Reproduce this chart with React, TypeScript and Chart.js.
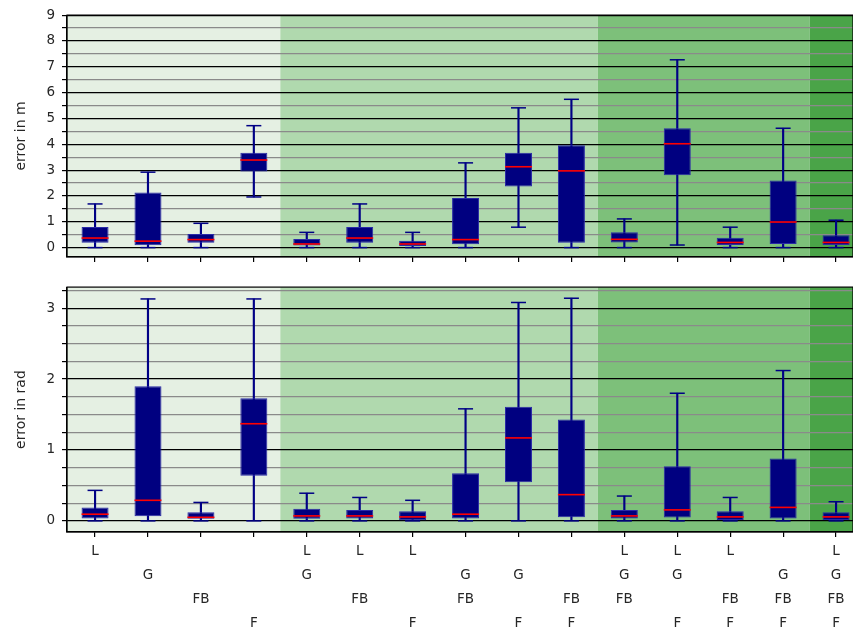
import React, { useEffect, useRef } from 'react';
import { Chart, registerables } from 'chart.js';

Chart.register(...registerables);
Chart.defaults.font.family = "'DejaVu Sans', sans-serif";
Chart.defaults.color = '#000000';

// x positions 1..15, tick labels (multi-line)
const categories: string[][] = [
  ['L', '', '', ''],
  ['', 'G', '', ''],
  ['', '', 'FB', ''],
  ['', '', '', 'F'],
  ['L', 'G', '', ''],
  ['L', '', 'FB', ''],
  ['L', '', '', 'F'],
  ['', 'G', 'FB', ''],
  ['', 'G', '', 'F'],
  ['', '', 'FB', 'F'],
  ['L', 'G', 'FB', ''],
  ['L', 'G', '', 'F'],
  ['L', '', 'FB', 'F'],
  ['', 'G', 'FB', 'F'],
  ['L', 'G', 'FB', 'F'],
];

// position error (m)
const posLow = [0, 0, 0, 1.96, 0, 0, 0, 0, 0.79, 0, 0, 0.1, 0, 0, 0];
const posQ1 = [0.19, 0.09, 0.19, 2.95, 0.08, 0.19, 0.06, 0.13, 2.37, 0.19, 0.2, 2.8, 0.1, 0.14, 0.1];
const posMedian = [0.37, 0.25, 0.31, 3.39, 0.14, 0.37, 0.14, 0.31, 3.13, 2.97, 0.32, 4.02, 0.2, 0.99, 0.2];
const posQ3 = [0.8, 2.13, 0.53, 3.67, 0.33, 0.8, 0.27, 1.92, 3.67, 3.96, 0.59, 4.62, 0.38, 2.6, 0.48];
const posHigh = [1.69, 2.92, 0.94, 4.72, 0.59, 1.69, 0.59, 3.28, 5.41, 5.74, 1.11, 7.27, 0.79, 4.62, 1.06];

// rotation error (rad)
const radLow = [0, 0, 0, 0, 0, 0, 0, 0, 0, 0, 0, 0, 0, 0, 0];
const radQ1 = [0.033, 0.066, 0.03, 0.635, 0.03, 0.033, 0.01, 0.033, 0.545, 0.05, 0.033, 0.047, 0.014, 0.033, 0.014];
const radMedian = [0.094, 0.29, 0.05, 1.37, 0.07, 0.07, 0.056, 0.094, 1.17, 0.37, 0.07, 0.155, 0.056, 0.19, 0.056];
const radQ3 = [0.19, 1.9, 0.12, 1.73, 0.17, 0.155, 0.136, 0.67, 1.61, 1.43, 0.155, 0.77, 0.136, 0.88, 0.12];
const radHigh = [0.43, 3.13, 0.26, 3.13, 0.39, 0.33, 0.29, 1.58, 3.08, 3.14, 0.35, 1.8, 0.33, 2.12, 0.27];

// background groups (number of active sources)
const bandEdges = [0, 4.5, 10.5, 14.5, 16];
const bandColors = ['#e5f0e3', '#b0d9ae', '#7dc07a', '#4aa448'];

// axis ranges and tick steps
const xRange = [0.47, 15.32];
const posRange = [-0.36, 9];
const posMinorStep = 0.5;
const radRange = [-0.157, 3.297];
const radMinorStep = 0.25;

const bandsPlugin = {
  id: 'bands',
  beforeDraw(chart: any) {
    const { ctx, chartArea: a, scales } = chart;
    const x = scales.x;
    ctx.save();
    for (let i = 0; i < bandColors.length; i++) {
      const x0 = Math.max(a.left, x.getPixelForValue(bandEdges[i]));
      const x1 = Math.min(a.right, x.getPixelForValue(bandEdges[i + 1]));
      if (x1 <= x0) continue;
      ctx.fillStyle = bandColors[i];
      ctx.fillRect(x0, a.top, x1 - x0, a.bottom - a.top);
    }
    ctx.restore();
  },
  afterDatasetsDraw(chart: any) {
    const { ctx, chartArea: a } = chart;
    ctx.save();
    ctx.strokeStyle = '#000000';
    ctx.lineWidth = 1.2;
    ctx.strokeRect(a.left, a.top, a.right - a.left, a.bottom - a.top);
    ctx.restore();
  },
};

function makeConfig(
  low: number[], q1: number[], med: number[], q3: number[], high: number[],
  yRange: number[], minorStep: number, title: string, showLabels: boolean,
  xAxisHeight: number, padTop: number
): any {
  const xs = categories.map((_, i) => i + 1);
  const yTicks: number[] = [];
  for (let v = 0; v <= yRange[1] + 1e-9; v += minorStep) yTicks.push(Math.round(v * 1000) / 1000);
  const navy = '#000085';
  return {
    type: 'bar',
    data: {
      datasets: [
        {
          type: 'scatter',
          data: xs.map((x, i) => ({ x, y: med[i] })),
          pointStyle: 'line',
          pointRadius: 13.5,
          pointHoverRadius: 13.5,
          pointBorderWidth: 1.6,
          pointBorderColor: '#ff0000',
          order: 1,
        },
        {
          type: 'scatter',
          data: xs.flatMap((x, i) => [{ x, y: low[i] }, { x, y: high[i] }]),
          pointStyle: 'line',
          pointRadius: 7.5,
          pointHoverRadius: 7.5,
          pointBorderWidth: 1.5,
          pointBorderColor: navy,
          order: 2,
        },
        {
          type: 'bar',
          data: xs.map((x, i) => ({ x, y: [q1[i], q3[i]] })),
          backgroundColor: '#000080',
          borderColor: '#2a2aa6',
          borderWidth: 1,
          borderSkipped: false,
          grouped: false,
          barPercentage: 0.51,
          categoryPercentage: 1,
          order: 3,
        },
        {
          type: 'bar',
          data: xs.map((x, i) => ({ x, y: [low[i], high[i]] })),
          backgroundColor: navy,
          borderWidth: 0,
          grouped: false,
          barThickness: 1.5,
          order: 4,
        },
      ],
    },
    options: {
      responsive: false,
      animation: false,
      events: [],
      layout: { autoPadding: false, padding: { top: padTop, left: 0, right: 0, bottom: 0 } },
      plugins: { legend: { display: false }, tooltip: { enabled: false } },
      scales: {
        x: {
          type: 'linear',
          offset: false,
          min: xRange[0],
          max: xRange[1],
          afterBuildTicks: (s: any) => { s.ticks = xs.map((v) => ({ value: v })); },
          afterFit: (s: any) => { s.height = xAxisHeight; s.paddingLeft = 0; s.paddingRight = 0; },
          grid: { offset: false, drawOnChartArea: false, drawTicks: true, tickLength: 5, color: '#000000', lineWidth: 1.2 },
          border: { display: true, color: '#000000', width: 1.2 },
          ticks: {
            autoSkip: false,
            maxRotation: 0,
            minRotation: 0,
            padding: 2,
            color: '#262626',
            font: { size: 13.5, lineHeight: 1.78 },
            callback: (v: any) => (showLabels ? categories[Math.round(v) - 1] : ''),
          },
        },
        y: {
          type: 'linear',
          min: yRange[0],
          max: yRange[1],
          afterBuildTicks: (s: any) => { s.ticks = yTicks.map((v) => ({ value: v })); },
          afterFit: (s: any) => { s.width = 67; },
          grid: {
            drawOnChartArea: true,
            drawTicks: true,
            tickLength: 5,
            lineWidth: 1.2,
            color: (c: any) => (Math.abs(c.tick.value - Math.round(c.tick.value)) < 1e-6 ? '#000000' : '#8a8a8a'),
            tickColor: '#000000',
          },
          border: { display: true, color: '#000000', width: 1.2 },
          ticks: {
            autoSkip: false,
            padding: 7,
            color: '#262626',
            font: { size: 13.5 },
            callback: (v: any) => (Math.abs(v - Math.round(v)) < 1e-6 ? String(Math.round(v)) : ''),
          },
          title: {
            display: true,
            text: title,
            color: '#262626',
            font: { size: 14 },
            padding: { top: 13, bottom: 0 },
          },
        },
      },
    },
    plugins: [bandsPlugin],
  };
}

export default function App() {
  const topRef = useRef<HTMLCanvasElement>(null);
  const botRef = useRef<HTMLCanvasElement>(null);

  useEffect(() => {
    const top = new Chart(
      topRef.current as HTMLCanvasElement,
      makeConfig(posLow, posQ1, posMedian, posQ3, posHigh, posRange, posMinorStep, 'error in m', false, 13, 14)
    );
    const bot = new Chart(
      botRef.current as HTMLCanvasElement,
      makeConfig(radLow, radQ1, radMedian, radQ3, radHigh, radRange, radMinorStep, 'error in rad', true, 98, 15)
    );
    return () => {
      top.destroy();
      bot.destroy();
    };
  }, []);

  return (
    <div style={{ position: 'fixed', left: 0, top: 0, width: 853, height: 630, background: '#ffffff' }}>
      <canvas ref={topRef} width={853} height={272} style={{ display: 'block', width: 853, height: 272 }} />
      <canvas ref={botRef} width={853} height={358} style={{ display: 'block', width: 853, height: 358 }} />
    </div>
  );
}
